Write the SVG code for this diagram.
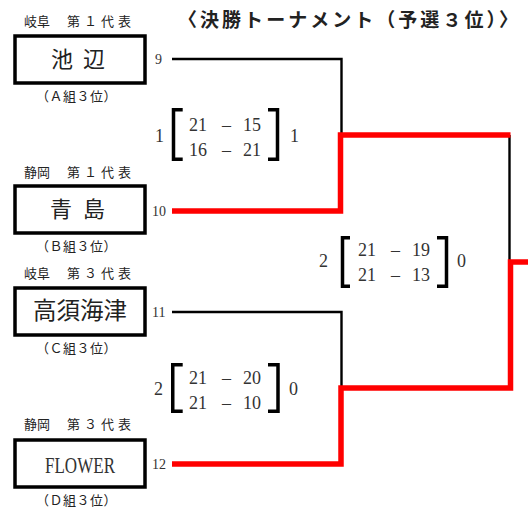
<svg xmlns="http://www.w3.org/2000/svg" width="528" height="510" viewBox="0 0 528 510">
<style>
.jp{font-family:"Noto Sans CJK JP","Liberation Sans",sans-serif;fill:#222}
.lab{font-size:13px}
.team{font-size:22px}
.num{font-family:"Liberation Serif","Noto Sans CJK JP",serif;fill:#333}
.seed{font-size:14px}
.sc{font-size:18px}
.box{fill:#fff;stroke:#000;stroke-width:3.5}
.blk{fill:none;stroke:#000;stroke-width:2.4}
.red{fill:none;stroke:#f00;stroke-width:5.5;stroke-linejoin:miter}
.brk{fill:none;stroke:#000;stroke-width:3.5;stroke-linejoin:miter}
</style>
<rect width="528" height="510" fill="#fff"/>
<text class="jp" x="178" y="27" font-size="19" font-weight="bold" textLength="340" lengthAdjust="spacing">〈決勝トーナメント（予選３位）〉</text>

<g id="connectors">
<path class="blk" d="M172,59 H341.5 V135"/>
<path class="blk" d="M172,312 H341.5 V388"/>
<path class="blk" d="M509.5,135 V262"/>
<path class="red" d="M172,211 H340.5 V135 H510.5"/>
<path class="red" d="M172,464 H341 V388 H510.5 V262 H528"/>
</g>

<g id="team-ikebe">
<text class="jp lab" y="26"><tspan x="24">岐阜</tspan><tspan x="67" letter-spacing="4">第１代表</tspan></text>
<rect class="box" x="15" y="36" width="130" height="47"/>
<text class="jp team" y="67" x="51 72 83">池 辺</text>
<text class="jp lab" x="36" y="101" letter-spacing="0.5">（Ａ組３位）</text>
<text class="num seed" x="155" y="64">9</text>
</g>

<g id="team-aoshima">
<text class="jp lab" y="177"><tspan x="24">静岡</tspan><tspan x="67" letter-spacing="4">第１代表</tspan></text>
<rect class="box" x="15" y="186" width="130" height="47"/>
<text class="jp team" y="217" x="50 72 83">青 島</text>
<text class="jp lab" x="36" y="251" letter-spacing="0.5">（Ｂ組３位）</text>
<text class="num seed" x="152" y="216">10</text>
</g>

<g id="team-takasukaizu">
<text class="jp lab" y="278"><tspan x="24">岐阜</tspan><tspan x="67" letter-spacing="4">第３代表</tspan></text>
<rect class="box" x="15" y="288" width="130" height="47"/>
<text class="jp" font-size="23.5" x="80" y="319" text-anchor="middle">高須海津</text>
<text class="jp lab" x="36" y="353" letter-spacing="0.5">（Ｃ組３位）</text>
<text class="num seed" x="152" y="317">11</text>
</g>

<g id="team-flower">
<text class="jp lab" y="429"><tspan x="24">静岡</tspan><tspan x="67" letter-spacing="4">第３代表</tspan></text>
<rect class="box" x="15" y="440" width="130" height="47"/>
<text class="num" font-size="24" x="45" y="473" textLength="70" lengthAdjust="spacingAndGlyphs" fill="#222">FLOWER</text>
<text class="jp lab" x="36" y="505" letter-spacing="0.5">（Ｄ組３位）</text>
<text class="num seed" x="152" y="469">12</text>
</g>

<g id="score-semi1">
<path class="brk" d="M182.7,109.75 H173.5 V159.25 H182.7"/>
<path class="brk" d="M268,109.75 H277.5 V159.25 H268"/>
<text class="num sc" x="155" y="142">1</text>
<text class="num sc" x="290" y="142">1</text>
<text class="num sc" y="131"><tspan x="189">21</tspan><tspan x="222">–</tspan><tspan x="243">15</tspan></text>
<text class="num sc" y="156"><tspan x="189">16</tspan><tspan x="222">–</tspan><tspan x="243">21</tspan></text>
</g>

<g id="score-final">
<path class="brk" d="M350,237.75 H342.5 V286.25 H350"/>
<path class="brk" d="M437,237.75 H446.5 V286.25 H437"/>
<text class="num sc" x="319" y="267">2</text>
<text class="num sc" x="457" y="267">0</text>
<text class="num sc" y="256"><tspan x="358">21</tspan><tspan x="391">–</tspan><tspan x="412">19</tspan></text>
<text class="num sc" y="281"><tspan x="358">21</tspan><tspan x="391">–</tspan><tspan x="412">13</tspan></text>
</g>

<g id="score-semi2">
<path class="brk" d="M182.7,364.75 H172.75 V411.25 H182.7"/>
<path class="brk" d="M268,364.75 H278 V411.25 H268"/>
<text class="num sc" x="154" y="395">2</text>
<text class="num sc" x="289" y="395">0</text>
<text class="num sc" y="384"><tspan x="189">21</tspan><tspan x="222">–</tspan><tspan x="243">20</tspan></text>
<text class="num sc" y="409"><tspan x="189">21</tspan><tspan x="222">–</tspan><tspan x="243">10</tspan></text>
</g>
</svg>
